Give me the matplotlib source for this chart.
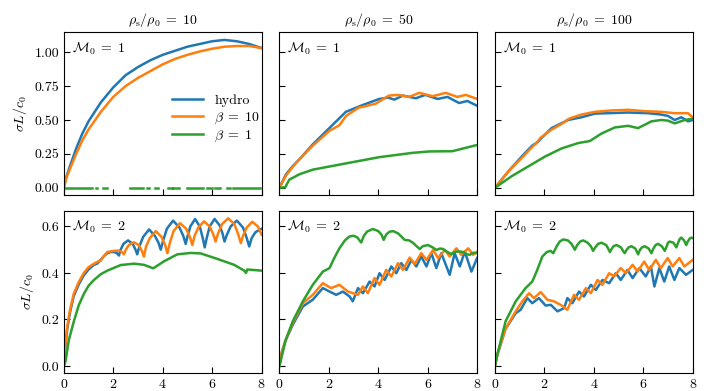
import numpy as np
import matplotlib
matplotlib.use("Agg")
import matplotlib.pyplot as plt
from matplotlib.lines import Line2D

plt.rcParams['font.family'] = 'serif'
plt.rcParams['font.serif'] = ['cmr10', 'DejaVu Serif']
plt.rcParams['mathtext.fontset'] = 'cm'
plt.rcParams['axes.formatter.use_mathtext'] = True
plt.rcParams['font.size'] = 10

nan = np.nan

# ---------------- data ----------------
density_ratios = [10, 50, 100]
mach_numbers = [1, 2]
series_labels = ['hydro', r'$\beta\;=\;10$', r'$\beta\;=\;1$']
xticks = [0, 2, 4, 6, 8]

# rho=10, M=1
x_h_10_1 = [0, 0.1, 0.25, 0.5, 0.75, 1, 1.5, 2, 2.5, 3, 3.5, 4, 4.5, 5, 5.5, 6, 6.5, 7, 7.5, 8]
y_h_10_1 = [0, 0.08, 0.16, 0.29, 0.40, 0.49, 0.63, 0.74, 0.83, 0.89, 0.94, 0.98, 1.01, 1.04, 1.06, 1.08, 1.09, 1.08, 1.06, 1.03]
x_b10_10_1 = x_h_10_1
y_b10_10_1 = [0, 0.07, 0.14, 0.25, 0.35, 0.43, 0.56, 0.67, 0.75, 0.81, 0.86, 0.91, 0.95, 0.98, 1.005, 1.025, 1.04, 1.045, 1.045, 1.03]
x_b1_10_1 = [0.04, 1.13, nan, 1.29, 1.33, nan, 1.58, 1.74, nan, 2.67, 3.19, nan, 3.35, 3.43, nan,
             3.68, 3.80, nan, 4.20, 4.36, nan, 4.40, 4.65, nan, 4.97, 5.62, nan, 5.78, 5.98, nan,
             6.10, 6.30, nan, 6.59, 6.71, nan, 6.83, 7.95]
y_b1_10_1 = [0 if not np.isnan(v) else nan for v in x_b1_10_1]

# rho=50, M=1
x_h_50_1 = [0, 0.27, 0.54, 0.81, 1.35, 2.02, 2.69, 3.37, 4.04, 4.4, 4.65, 5.0, 5.52, 5.9, 6.4, 6.8, 7.27, 7.6, 8.0]
y_h_50_1 = [0, 0.10, 0.16, 0.21, 0.32, 0.44, 0.56, 0.61, 0.655, 0.665, 0.65, 0.68, 0.66, 0.685, 0.655, 0.67, 0.625, 0.64, 0.605]
x_b10_50_1 = [0, 0.27, 0.54, 0.81, 1.35, 2.02, 2.42, 2.7, 3.2, 3.9, 4.2, 4.44, 4.8, 5.25, 5.66, 6.2, 6.73, 7.2, 7.54, 8.0]
y_b10_50_1 = [0, 0.09, 0.155, 0.21, 0.31, 0.42, 0.46, 0.53, 0.59, 0.62, 0.655, 0.68, 0.685, 0.67, 0.70, 0.675, 0.70, 0.67, 0.685, 0.655]
x_b1_50_1 = [0, 0.24, 0.4, 0.81, 1.35, 2.69, 4.04, 5.39, 6.06, 7.0, 8.0]
y_b1_50_1 = [0, 0.005, 0.06, 0.10, 0.134, 0.18, 0.226, 0.258, 0.268, 0.27, 0.316]

# rho=100, M=1
x_h_100_1 = [0, 0.54, 1.08, 1.5, 1.75, 1.9, 2.29, 2.96, 3.5, 4.04, 4.58, 5.39, 6.2, 6.73, 7.0, 7.27, 7.54, 7.81, 8.0]
y_h_100_1 = [0, 0.12, 0.23, 0.31, 0.34, 0.37, 0.44, 0.50, 0.52, 0.547, 0.55, 0.555, 0.55, 0.54, 0.53, 0.50, 0.52, 0.49, 0.50]
x_b10_100_1 = [0, 0.54, 1.08, 1.5, 1.68, 1.85, 2.3, 2.69, 3.0, 3.5, 4.04, 4.7, 5.4, 6.06, 6.73, 7.27, 7.81, 8.0]
y_b10_100_1 = [0, 0.12, 0.22, 0.30, 0.33, 0.37, 0.43, 0.47, 0.51, 0.54, 0.56, 0.57, 0.575, 0.565, 0.56, 0.55, 0.55, 0.52]
x_b1_100_1 = [0, 0.67, 1.35, 2.02, 2.69, 3.37, 3.84, 4.31, 4.85, 5.39, 5.79, 6.33, 6.73, 7.0, 7.27, 7.68, 8.0]
y_b1_100_1 = [0, 0.085, 0.158, 0.23, 0.29, 0.33, 0.345, 0.40, 0.445, 0.457, 0.44, 0.49, 0.50, 0.495, 0.475, 0.50, 0.51]

# rho=10, M=2
x_h_10_2 = [0, 0.05, 0.14, 0.25, 0.4, 0.6, 0.81, 1.0, 1.22, 1.35, 1.49, 1.6, 1.76, 1.9, 2.03, 2.15, 2.23,
            2.30, 2.41, 2.6, 2.79, 2.90, 2.97,
            3.06, 3.21, 3.45, 3.68, 3.83, 3.92,
            4.02, 4.17, 4.42, 4.68, 4.83, 4.93,
            5.01, 5.12, 5.31, 5.5, 5.62, 5.7,
            5.78, 5.9, 6.1, 6.3, 6.42, 6.5,
            6.6, 6.75, 7.0, 7.25, 7.4, 7.5,
            7.6, 7.75, 8.0]
y_h_10_2 = [0, 0.07, 0.16, 0.23, 0.30, 0.35, 0.39, 0.415, 0.435, 0.44, 0.456, 0.47, 0.485, 0.49, 0.49, 0.485, 0.475,
            0.50, 0.525, 0.54, 0.525, 0.50, 0.48,
            0.515, 0.555, 0.587, 0.56, 0.53, 0.50,
            0.54, 0.59, 0.625, 0.595, 0.56, 0.525,
            0.56, 0.60, 0.632, 0.60, 0.55, 0.51,
            0.55, 0.60, 0.632, 0.605, 0.57, 0.535,
            0.565, 0.60, 0.625, 0.595, 0.55, 0.514,
            0.55, 0.575, 0.59]
x_b10_10_2 = [0, 0.05, 0.14, 0.25, 0.4, 0.6, 0.81, 1.0, 1.22, 1.4, 1.49, 1.6, 1.76, 2.03, 2.23, 2.35, 2.43,
              2.51, 2.63, 2.83, 3.03, 3.16, 3.24,
              3.33, 3.48, 3.72, 3.95, 4.1, 4.19,
              4.29, 4.44, 4.7, 4.95, 5.1, 5.2,
              5.29, 5.44, 5.67, 5.9, 6.05, 6.14,
              6.24, 6.4, 6.65, 6.9, 7.06, 7.16,
              7.25, 7.4, 7.62, 7.85, 8.0]
y_b10_10_2 = [0, 0.08, 0.17, 0.24, 0.31, 0.36, 0.40, 0.425, 0.44, 0.45, 0.452, 0.47, 0.49, 0.495, 0.496, 0.49, 0.48,
              0.50, 0.52, 0.532, 0.52, 0.495, 0.47,
              0.515, 0.55, 0.58, 0.555, 0.52, 0.485,
              0.53, 0.58, 0.614, 0.59, 0.555, 0.52,
              0.56, 0.595, 0.622, 0.60, 0.565, 0.535,
              0.57, 0.61, 0.635, 0.61, 0.565, 0.528,
              0.56, 0.595, 0.62, 0.60, 0.565]
x_b1_10_2 = [0, 0.07, 0.2, 0.4, 0.6, 0.81, 1.0, 1.22, 1.5, 1.76, 2.3, 2.84, 3.24, 3.62, 4.05, 4.59, 5.13, 5.54,
             6.22, 6.89, 7.3, 7.37, 7.42, 8.0]
y_b1_10_2 = [0, 0.02, 0.11, 0.19, 0.26, 0.31, 0.345, 0.37, 0.395, 0.41, 0.434, 0.44, 0.435, 0.42, 0.45, 0.48, 0.486, 0.484,
             0.46, 0.435, 0.41, 0.40, 0.415, 0.41]

# rho=50, M=2
x_h_50_2 = [0, 0.1, 0.25, 0.54, 0.95, 1.35, 1.76, 2.03, 2.3, 2.57, 2.84, 2.97, 3.18, 3.38, 3.65, 3.85, 4.05, 4.26,
            4.53, 4.73, 4.93, 5.14, 5.34, 5.54, 5.74, 5.95, 6.15, 6.35, 6.55, 6.89, 7.09, 7.3, 7.5, 7.77, 8.0]
y_h_50_2 = [0, 0.06, 0.11, 0.177, 0.256, 0.285, 0.335, 0.320, 0.306, 0.320, 0.299, 0.278, 0.335, 0.313, 0.363, 0.342,
            0.399, 0.370, 0.428, 0.399, 0.442, 0.413, 0.456, 0.428, 0.471, 0.428, 0.485, 0.421, 0.485, 0.392, 0.485,
            0.428, 0.492, 0.406, 0.464]
x_b10_50_2 = [0, 0.1, 0.25, 0.54, 0.95, 1.35, 1.76, 2.09, 2.43, 2.77, 3.18, 3.38, 3.58, 3.85, 4.05, 4.32, 4.53, 4.8,
              5.0, 5.27, 5.47, 5.74, 5.95, 6.22, 6.42, 6.69, 6.89, 7.16, 7.36, 7.64, 7.84, 8.0]
y_b10_50_2 = [0, 0.06, 0.11, 0.185, 0.270, 0.306, 0.356, 0.335, 0.349, 0.320, 0.306, 0.342, 0.313, 0.378, 0.349, 0.413,
              0.385, 0.442, 0.413, 0.466, 0.438, 0.485, 0.456, 0.499, 0.464, 0.499, 0.471, 0.506, 0.478, 0.506, 0.478, 0.492]
x_b1_50_2 = [0, 0.05, 0.25, 0.54, 0.95, 1.35, 1.76, 2.03, 2.2, 2.43, 2.65, 2.84, 3.0, 3.15, 3.31, 3.42, 3.55, 3.78,
             4.0, 4.13, 4.22, 4.32, 4.45, 4.6, 4.8, 4.95, 5.07, 5.25, 5.4, 5.55, 5.68, 5.8, 6.01, 6.2, 6.35, 6.5,
             6.62, 6.8, 6.96, 7.1, 7.25, 7.43, 7.6, 7.7, 7.85, 8.0]
y_b1_50_2 = [0, 0.02, 0.11, 0.192, 0.278, 0.349, 0.406, 0.421, 0.46, 0.506, 0.54, 0.557, 0.56, 0.553, 0.531, 0.56, 0.578,
             0.589, 0.58, 0.565, 0.542, 0.565, 0.577, 0.58, 0.57, 0.555, 0.542, 0.54, 0.53, 0.515, 0.503, 0.515, 0.52,
             0.51, 0.499, 0.505, 0.503, 0.49, 0.481, 0.49, 0.493, 0.49, 0.48, 0.478, 0.487, 0.485]

# rho=100, M=2
x_h_100_2 = [0, 0.1, 0.43, 0.84, 1.04, 1.31, 1.51, 1.78, 2.05, 2.26, 2.53, 2.8, 2.93, 3.13, 3.4, 3.6, 3.88, 4.08,
             4.35, 4.62, 4.89, 5.09, 5.36, 5.57, 5.84, 6.1, 6.31, 6.45, 6.65, 6.85, 7.05, 7.26, 7.46, 7.73, 8.0]
y_h_100_2 = [0, 0.05, 0.16, 0.227, 0.242, 0.292, 0.270, 0.292, 0.260, 0.263, 0.235, 0.249, 0.292, 0.270, 0.320, 0.299,
             0.349, 0.327, 0.370, 0.356, 0.399, 0.370, 0.413, 0.378, 0.421, 0.385, 0.428, 0.342, 0.421, 0.363, 0.428,
             0.370, 0.421, 0.392, 0.413]
x_b10_100_2 = [0, 0.1, 0.43, 0.84, 1.11, 1.38, 1.58, 1.85, 2.12, 2.39, 2.66, 2.93, 3.2, 3.4, 3.68, 3.88, 4.15, 4.35,
               4.62, 4.82, 5.09, 5.3, 5.57, 5.77, 6.04, 6.24, 6.51, 6.71, 6.99, 7.19, 7.46, 7.66, 8.0]
y_b10_100_2 = [0, 0.05, 0.16, 0.235, 0.278, 0.313, 0.292, 0.318, 0.285, 0.278, 0.263, 0.242, 0.306, 0.285, 0.335, 0.313,
               0.370, 0.349, 0.399, 0.385, 0.421, 0.399, 0.435, 0.406, 0.449, 0.413, 0.456, 0.421, 0.464, 0.428, 0.464,
               0.428, 0.456]
x_b1_100_2 = [0, 0.1, 0.43, 0.84, 1.24, 1.51, 1.7, 1.92, 2.1, 2.25, 2.36, 2.5, 2.62, 2.76, 2.95, 3.1, 3.23, 3.33,
              3.45, 3.57, 3.75, 3.88, 3.97, 4.06, 4.17, 4.31, 4.5, 4.58, 4.65, 4.73, 4.8, 4.92, 5.1, 5.18, 5.25,
              5.33, 5.41, 5.52, 5.68, 5.79, 5.87, 5.95, 6.06, 6.22, 6.33, 6.41, 6.5, 6.6, 6.75, 6.87, 6.95, 7.0,
              7.07, 7.22, 7.34, 7.41, 7.47, 7.54, 7.65, 7.74, 7.8, 7.88, 7.95, 8.0]
y_b1_100_2 = [0, 0.05, 0.192, 0.278, 0.335, 0.363, 0.41, 0.471, 0.49, 0.495, 0.485, 0.515, 0.535, 0.544, 0.54, 0.525,
              0.50, 0.52, 0.535, 0.54, 0.53, 0.515, 0.495, 0.51, 0.525, 0.53, 0.52, 0.505, 0.49, 0.505, 0.515, 0.52,
              0.51, 0.495, 0.485, 0.5, 0.51, 0.515, 0.505, 0.48, 0.5, 0.51, 0.515, 0.505, 0.485, 0.505, 0.52, 0.525,
              0.515, 0.495, 0.515, 0.53, 0.535, 0.53, 0.51, 0.53, 0.545, 0.552, 0.54, 0.52, 0.535, 0.548, 0.552, 0.55]

panels = {
    (0, 0): [(x_h_10_1, y_h_10_1), (x_b10_10_1, y_b10_10_1), (x_b1_10_1, y_b1_10_1)],
    (0, 1): [(x_h_50_1, y_h_50_1), (x_b10_50_1, y_b10_50_1), (x_b1_50_1, y_b1_50_1)],
    (0, 2): [(x_h_100_1, y_h_100_1), (x_b10_100_1, y_b10_100_1), (x_b1_100_1, y_b1_100_1)],
    (1, 0): [(x_h_10_2, y_h_10_2), (x_b10_10_2, y_b10_10_2), (x_b1_10_2, y_b1_10_2)],
    (1, 1): [(x_h_50_2, y_h_50_2), (x_b10_50_2, y_b10_50_2), (x_b1_50_2, y_b1_50_2)],
    (1, 2): [(x_h_100_2, y_h_100_2), (x_b10_100_2, y_b10_100_2), (x_b1_100_2, y_b1_100_2)],
}

colors = ['#1f77b4', '#ff7f0e', '#2ca02c']

fig, axes = plt.subplots(2, 3, figsize=(7.09, 3.91), dpi=100, sharex=True)
fig.subplots_adjust(left=0.090, right=0.977, top=0.917, bottom=0.046, wspace=0.09, hspace=0.10)

for (r, c), series in panels.items():
    ax = axes[r, c]
    for (xs, ys), col in zip(series, colors):
        ax.plot(xs, ys, color=col, lw=1.8)
    ax.set_xlim(0, 8)
    ax.set_xticks(xticks)
    if r == 0:
        ax.set_ylim(-0.05, 1.145)
        ax.set_yticks([0, 0.25, 0.5, 0.75, 1.0])
        ax.yaxis.set_major_formatter(matplotlib.ticker.FormatStrFormatter('%.2f'))
        ax.set_title(r'$\rho_\mathrm{s}/\rho_0\;=\;%d$' % density_ratios[c], fontsize=10, pad=6)
    else:
        ax.set_ylim(-0.03, 0.667)
        ax.set_yticks([0, 0.2, 0.4, 0.6])
        ax.yaxis.set_major_formatter(matplotlib.ticker.FormatStrFormatter('%.1f'))
    if c > 0:
        ax.set_yticklabels([])
    else:
        ax.set_ylabel(r'$\sigma L/c_0$', fontsize=10)
    ax.tick_params(direction='in', length=4, labelsize=10)
    ax.text(0.04, 0.95, r'$\mathcal{M}_0\;=\;%d$' % mach_numbers[r], transform=ax.transAxes,
            ha='left', va='top', fontsize=10)

handles = [Line2D([], [], color=col, lw=1.8) for col in colors]
axes[0, 0].legend(handles, series_labels, loc='center left', bbox_to_anchor=(0.5, 0.465),
                  frameon=False, fontsize=10, handlelength=2.2, labelspacing=0.25, borderpad=0.2)

fig.savefig('out.png', dpi=100)
